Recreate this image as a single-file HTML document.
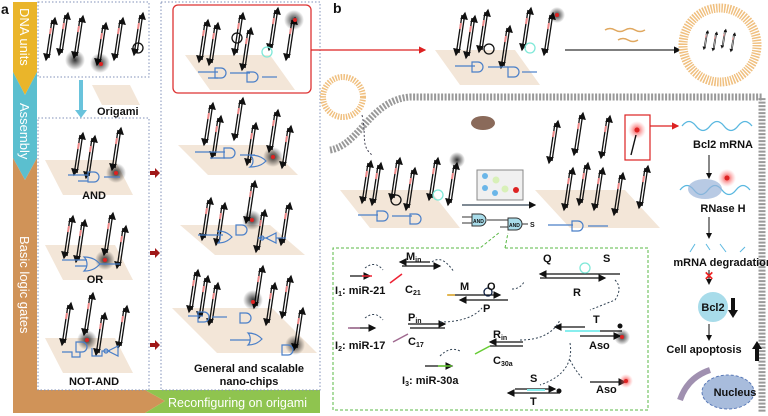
<!DOCTYPE html>
<html><head><meta charset="utf-8"><style>
html,body{margin:0;padding:0;background:#fff}
svg{display:block}
text{font-family:"Liberation Sans",sans-serif;font-weight:bold;fill:#111}
</style></head><body>
<svg width="768" height="416" viewBox="0 0 768 416" xmlns="http://www.w3.org/2000/svg">
<defs>
<marker id="ah" markerWidth="6" markerHeight="6" refX="5" refY="3" orient="auto"><path d="M0,0L6,3L0,6z" fill="#111"/></marker>
<marker id="ahr" markerWidth="6" markerHeight="6" refX="5" refY="3" orient="auto"><path d="M0,0L6,3L0,6z" fill="#d22"/></marker>
<radialGradient id="glow"><stop offset="0" stop-color="#000" stop-opacity=".8"/><stop offset="1" stop-color="#000" stop-opacity="0"/></radialGradient>
<radialGradient id="rglow"><stop offset="0" stop-color="#e22" stop-opacity=".9"/><stop offset="1" stop-color="#f88" stop-opacity="0"/></radialGradient>
<g id="st"><line x1="0" y1="0" x2="-6" y2="40" stroke="#111" stroke-width="1.3" marker-end="url(#ah)"/><line x1="-3" y1="38" x2="3" y2="-2" stroke="#111" stroke-width="1.3" marker-end="url(#ah)"/><line x1="-1" y1="8" x2="-2" y2="14" stroke="#e88" stroke-width="2"/></g>
<g id="gate"><path d="M0,0h6a5,5 0 0 1 0,10h-6z" fill="none" stroke="#4a7fc8" stroke-width="1.2"/></g>
</defs>

<text x="1" y="14" font-size="14">a</text>
<path d="M13,2H37V72L25,95L13,72Z" fill="#eab52a"/>
<path d="M13,72L25,95L37,72V158L25,180L13,158Z" fill="#5bbfcf"/>
<path d="M13,158L25,180L37,158V390H145L165,401L145,413H13Z" fill="#d09358"/>
<path d="M145,390H320V413H145L165,401Z" fill="#8fc44f"/>
<text x="168" y="407" font-size="12.5" style="fill:#fff;font-weight:normal">Reconfiguring on origami</text>
<text transform="translate(20,8) rotate(90)" font-size="13" style="fill:#fff;font-weight:normal">DNA units</text>
<text transform="translate(20,103) rotate(90)" font-size="13" style="fill:#fff;font-weight:normal">Assembly</text>
<text transform="translate(20,236) rotate(90)" font-size="13" style="fill:#fff;font-weight:normal">Basic logic gates</text>

<g fill="none" stroke="#8090b8" stroke-dasharray="1.5,2">
<rect x="38" y="2" width="111" height="75"/>
<rect x="38" y="118" width="111" height="272"/>
<rect x="161" y="2" width="159" height="388"/>
</g>
<rect x="173" y="5" width="138" height="88" rx="5" fill="none" stroke="#d33" stroke-width="1.3"/>
<line x1="311" y1="50" x2="425" y2="50" stroke="#d22" stroke-width="1.2" marker-end="url(#ahr)"/>

<path d="M79,80h4v30h4l-6,8l-6,-8h4z" fill="#69c3dc"/>
<path d="M92,85h38l10,20h-38z" fill="#f3e6d8"/>
<text x="97" y="115" font-size="11">Origami</text>

<g fill="#f3e6d8">
<path d="M45,160h70l18,35h-70z"/>
<path d="M45,245h70l18,35h-70z"/>
<path d="M45,338h70l18,35h-70z"/>
<path d="M185,55h85l25,35h-85z"/>
<path d="M178,145h90l30,30h-90z"/>
<path d="M180,225h90l35,30h-90z"/>
<path d="M172,308h100l45,45h-100z"/>
<path d="M435,50h80l25,35h-80z"/>
<path d="M340,190h90l30,38h-90z"/>
<path d="M535,190h90l35,38h-90z"/>
</g>

<g>
<use href="#st" x="52" y="20"/><use href="#st" x="65" y="15"/><use href="#st" x="80" y="18"/><use href="#st" x="103" y="25"/><use href="#st" x="120" y="20"/><use href="#st" x="140" y="15"/>
<use href="#st" x="80" y="135"/><use href="#st" x="92" y="138"/><use href="#st" x="118" y="130"/>
<use href="#st" x="70" y="218"/><use href="#st" x="82" y="222"/><use href="#st" x="110" y="215"/><use href="#st" x="123" y="228"/>
<use href="#st" x="68" y="305"/><use href="#st" x="90" y="295"/><use href="#st" x="102" y="315"/><use href="#st" x="124" y="308"/>
<use href="#st" x="205" y="22"/><use href="#st" x="215" y="25"/><use href="#st" x="240" y="15"/><use href="#st" x="248" y="30"/><use href="#st" x="275" y="10"/><use href="#st" x="292" y="20"/>
<use href="#st" x="210" y="105"/><use href="#st" x="218" y="118"/><use href="#st" x="240" y="100"/><use href="#st" x="253" y="125"/><use href="#st" x="275" y="112"/><use href="#st" x="288" y="128"/>
<use href="#st" x="208" y="200"/><use href="#st" x="222" y="205"/><use href="#st" x="252" y="183"/><use href="#st" x="262" y="212"/><use href="#st" x="287" y="205"/>
<use href="#st" x="195" y="272"/><use href="#st" x="205" y="278"/><use href="#st" x="215" y="285"/><use href="#st" x="260" y="268"/><use href="#st" x="272" y="285"/><use href="#st" x="288" y="278"/><use href="#st" x="300" y="310"/>
</g>
<g fill="url(#glow)"><circle cx="75" cy="60" r="10"/><circle cx="100" cy="63" r="10"/><circle cx="116" cy="173" r="10"/><circle cx="105" cy="260" r="10"/><circle cx="87" cy="340" r="10"/><circle cx="294" cy="20" r="10"/><circle cx="273" cy="157" r="10"/><circle cx="252" cy="220" r="10"/><circle cx="253" cy="300" r="10"/><circle cx="295" cy="345" r="10"/></g>
<g fill="#d22"><circle cx="101" cy="64" r="2"/><circle cx="116" cy="173" r="2"/><circle cx="105" cy="260" r="2"/><circle cx="87" cy="340" r="2"/><circle cx="295" cy="20" r="2"/><circle cx="273" cy="157" r="2"/><circle cx="252" cy="220" r="2"/><circle cx="253" cy="302" r="2"/></g>
<g fill="none" stroke="#4a7fc8" stroke-width="1.2">
<path d="M68,175h20m-10,6h10"/><use href="#gate" x="88" y="172"/><path d="M104,177h16"/>
<path d="M62,260h25m-12,6h12"/><path d="M84,257c10,0 14,5 16,7c-2,2 -6,7 -16,7c4,-4 4,-10 0,-14z"/><path d="M100,264h20"/>
<path d="M62,352h10v5h8v-5"/><use href="#gate" x="76" y="342"/><path d="M92,348v8h10v-5h8"/><path d="M108,351l10,-5v10z"/><circle cx="106" cy="351" r="2"/>
<path d="M198,72h20m-10,6h10"/><use href="#gate" x="215" y="68"/><path d="M230,73h20"/><use href="#gate" x="247" y="72"/><path d="M262,77h15"/>
<path d="M195,152h30m-15,6h15"/><use href="#gate" x="224" y="148"/><path d="M240,155h15"/><path d="M250,155c10,0 14,4 16,6c-2,2 -6,6 -16,6c4,-3 4,-9 0,-12z"/>
<path d="M198,235h25"/><path d="M218,231c8,0 12,4 14,6c-2,2 -6,6 -14,6c3,-3 3,-9 0,-12z"/><use href="#gate" x="236" y="225"/><path d="M258,238h10"/><circle cx="262" cy="238" r="2"/><path d="M266,238l10,-5v10z"/><path d="M276,238h10"/>
<path d="M188,316h15"/><use href="#gate" x="198" y="312"/><path d="M212,317h15"/><use href="#gate" x="240" y="313"/><path d="M230,340h20"/><path d="M248,333c8,0 12,4 14,6c-2,2 -6,6 -14,6c3,-3 3,-9 0,-12z"/><use href="#gate" x="282" y="345"/>
</g>
<circle cx="138" cy="48" r="5" fill="none" stroke="#111" stroke-width="1.3"/>
<circle cx="267" cy="52" r="5" fill="none" stroke="#7fe8d8" stroke-width="1.3"/>
<circle cx="237" cy="38" r="5" fill="none" stroke="#111" stroke-width="1.3"/>
<text x="94" y="199" font-size="11" text-anchor="middle">AND</text>
<text x="95" y="283" font-size="11" text-anchor="middle">OR</text>
<text x="94" y="385" font-size="11" text-anchor="middle">NOT-AND</text>
<text x="249" y="372" font-size="11" text-anchor="middle">General and scalable</text>
<text x="249" y="385" font-size="11" text-anchor="middle">nano-chips</text>
<g fill="#a01818"><path d="M150,171h5v-3l5,5l-5,5v-3h-5z"/><path d="M150,251h5v-3l5,5l-5,5v-3h-5z"/><path d="M150,343h5v-3l5,5l-5,5v-3h-5z"/></g>

<text x="333" y="13" font-size="14">b</text>
<path d="M330,150C360,145 370,100 410,97H762V412" fill="none" stroke="#999" stroke-width="7" stroke-dasharray="2,1.5"/>
<g><use href="#st" x="462" y="15"/><use href="#st" x="472" y="18"/><use href="#st" x="485" y="12"/><use href="#st" x="507" y="28"/><use href="#st" x="528" y="10"/><use href="#st" x="550" y="15"/></g>
<circle cx="557" cy="15" r="8" fill="url(#glow)"/><circle cx="557" cy="15" r="2" fill="#d22"/>
<circle cx="489" cy="49" r="5" fill="none" stroke="#111" stroke-width="1.3"/>
<circle cx="530" cy="48" r="5" fill="none" stroke="#7fe8d8" stroke-width="1.3"/>
<g fill="none" stroke="#4a7fc8" stroke-width="1.2"><path d="M455,66h20"/><use href="#gate" x="472" y="62"/><path d="M488,67h20"/><use href="#gate" x="508" y="67"/><path d="M522,72h15"/></g>
<line x1="565" y1="50" x2="680" y2="50" stroke="#333" stroke-width="1.2" marker-end="url(#ah)"/>
<g stroke="#e0a860" fill="none" stroke-width="1.5"><path d="M605,30q5,-3 10,0t10,0"/><path d="M625,30q5,-3 10,0t10,0"/><path d="M618,40q5,-3 10,0t10,0"/></g>
<circle cx="720" cy="45" r="37" fill="none" stroke="#f0c080" stroke-width="9" stroke-dasharray="1.5,1.2"/>
<circle cx="720" cy="45" r="31" fill="#fff"/>
<g transform="translate(720,45) scale(.45) translate(-500,-45)"><use href="#st" x="470" y="15"/><use href="#st" x="490" y="18"/><use href="#st" x="510" y="12"/><use href="#st" x="530" y="20"/></g>
<circle cx="343" cy="97" r="20" fill="none" stroke="#f0c080" stroke-width="6" stroke-dasharray="1.5,1.2"/>
<path d="M362,115c5,20 -2,30 10,40" stroke="#445" fill="none" stroke-dasharray="2,2"/>
<ellipse cx="483" cy="123" rx="12" ry="7" fill="#8a6a5a"/>

<g><use href="#st" x="368" y="163"/><use href="#st" x="378" y="165"/><use href="#st" x="397" y="160"/><use href="#st" x="412" y="170"/><use href="#st" x="435" y="160"/><use href="#st" x="454" y="165"/></g>
<circle cx="457" cy="160" r="8" fill="url(#glow)"/>
<circle cx="396" cy="200" r="5" fill="none" stroke="#111" stroke-width="1.3"/><circle cx="438" cy="195" r="5" fill="none" stroke="#7fe8d8" stroke-width="1.3"/>
<g fill="none" stroke="#4a7fc8" stroke-width="1.2"><path d="M358,215h20"/><use href="#gate" x="377" y="211"/><path d="M392,216h20"/><use href="#gate" x="410" y="214"/></g>
<rect x="477" y="170" width="46" height="30" fill="#f0f0f0" stroke="#888"/>
<g fill="#6bb6e8"><circle cx="485" cy="176" r="3"/><circle cx="485" cy="188" r="3"/><circle cx="495" cy="193" r="3"/></g>
<g fill="#d8f0b8"><circle cx="496" cy="180" r="3.5"/><circle cx="505" cy="189" r="3.5"/></g><circle cx="516" cy="190" r="3" fill="#d22"/>
<line x1="462" y1="205" x2="535" y2="205" stroke="#345" stroke-width="1.2" marker-end="url(#ah)"/>
<g stroke="#333" fill="#a8dcea"><path d="M472,214h8a6,6 0 0 1 0,12h-8z"/><path d="M508,218h8a6,6 0 0 1 0,12h-8z"/><path d="M462,217h10M462,223h10M487,220h21M500,227h8M522,224h6" fill="none"/></g>
<text x="473" y="223" font-size="5" font-weight="normal">AND</text><text x="509" y="227" font-size="5" font-weight="normal">AND</text>
<text x="530" y="227" font-size="7" font-weight="normal">S</text>
<g><use href="#st" x="555" y="123"/><use href="#st" x="580" y="115"/><use href="#st" x="607" y="118"/><use href="#st" x="570" y="170"/><use href="#st" x="585" y="165"/><use href="#st" x="600" y="170"/><use href="#st" x="620" y="175"/><use href="#st" x="645" y="168"/></g>
<g fill="none" stroke="#4a7fc8" stroke-width="1.2"><path d="M548,225h25"/><use href="#gate" x="572" y="221"/><path d="M588,226h20"/></g>
<rect x="625" y="115" width="25" height="45" fill="none" stroke="#d22" stroke-width="1.2"/>
<circle cx="637" cy="130" r="9" fill="url(#rglow)"/><circle cx="637" cy="130" r="2.5" fill="#d22"/>
<line x1="631" y1="155" x2="636" y2="135" stroke="#111" stroke-width="1.4"/>
<line x1="650" y1="126" x2="678" y2="126" stroke="#d22" stroke-width="1.2" marker-end="url(#ahr)"/>
<path d="M682,126q7,-9 14,0t14,0t14,0t14,0t14,0" fill="none" stroke="#5ab8e0" stroke-width="1.3"/>
<text x="723" y="148" font-size="11" text-anchor="middle">Bcl2 mRNA</text>
<line x1="709" y1="155" x2="709" y2="178" stroke="#111" marker-end="url(#ah)"/>
<path d="M680,190q7,-9 14,0t14,0t14,0t14,0t14,0" fill="none" stroke="#5ab8e0" stroke-width="1.3"/>
<ellipse cx="705" cy="189" rx="17" ry="10" fill="#9ab4d8" opacity=".7"/>
<circle cx="727" cy="178" r="9" fill="url(#rglow)"/><circle cx="727" cy="178" r="2.5" fill="#d22"/>
<text x="723" y="212" font-size="11" text-anchor="middle">RNase H</text>
<line x1="709" y1="217" x2="709" y2="238" stroke="#111" marker-end="url(#ah)"/>
<path d="M690,252l5,-8M710,250l-4,-6M720,244l6,8M740,252l5,-5" stroke="#5ab8e0" fill="none"/>
<text x="723" y="266" font-size="11" text-anchor="middle">mRNA degradation</text>
<line x1="709" y1="270" x2="709" y2="284" stroke="#111" marker-end="url(#ah)"/>
<text x="709" y="280" font-size="12" text-anchor="middle" style="fill:#e22">✕</text>
<circle cx="713" cy="307" r="15" fill="#a8dcea"/>
<text x="713" y="311" font-size="11" text-anchor="middle">Bcl2</text>
<path d="M731,298h4v12h3l-5,8l-5,-8h3z" fill="#111"/>
<line x1="709" y1="324" x2="709" y2="340" stroke="#111" marker-end="url(#ah)"/>
<text x="704" y="353" font-size="11" text-anchor="middle">Cell apoptosis</text>
<path d="M755,361h4v-12h3l-5,-8l-5,8h3z" fill="#111"/>
<path d="M680,400c5,-15 15,-25 30,-30" stroke="#a090b0" stroke-width="6" fill="none"/>
<ellipse cx="728" cy="392" rx="26" ry="17" fill="#a8bcdc" stroke="#5a7ab8" stroke-dasharray="3,2"/>
<text x="735" y="396" font-size="11" text-anchor="middle">Nucleus</text>

<path d="M505,248H648V410H333V248H480L500,232M505,248L508,233" fill="none" stroke="#5ab845" stroke-dasharray="3,2"/>
<g stroke="#111" stroke-width="1.3" fill="none">
<line x1="350" y1="276" x2="370" y2="276" marker-end="url(#ah)"/>
<line x1="430" y1="262" x2="400" y2="262" marker-end="url(#ah)"/>
<line x1="402" y1="266" x2="440" y2="266" marker-end="url(#ah)"/>
<line x1="448" y1="295" x2="500" y2="295" marker-end="url(#ah)"/>
<line x1="508" y1="300" x2="460" y2="300" marker-end="url(#ah)"/>
<line x1="620" y1="274" x2="540" y2="274" marker-end="url(#ah)"/>
<line x1="540" y1="278" x2="605" y2="278" marker-end="url(#ah)"/>
<line x1="350" y1="328" x2="375" y2="328" marker-end="url(#ah)"/>
<line x1="408" y1="324" x2="445" y2="324" marker-end="url(#ah)"/>
<line x1="410" y1="328" x2="445" y2="328"/>
<line x1="523" y1="342" x2="490" y2="342" marker-end="url(#ah)"/>
<line x1="490" y1="346" x2="523" y2="346"/>
<line x1="585" y1="327" x2="555" y2="327" marker-end="url(#ah)"/>
<line x1="580" y1="331" x2="622" y2="331"/>
<line x1="580" y1="336" x2="620" y2="336" marker-end="url(#ah)"/>
<line x1="425" y1="366" x2="452" y2="366" marker-end="url(#ah)"/>
<line x1="515" y1="389" x2="555" y2="389" marker-end="url(#ah)"/>
<line x1="560" y1="393" x2="508" y2="393" marker-end="url(#ah)"/>
<line x1="590" y1="382" x2="625" y2="382" marker-end="url(#ah)"/>
</g>
<line x1="362" y1="276" x2="372" y2="276" stroke="#e23" stroke-width="1.5"/>
<line x1="390" y1="283" x2="402" y2="274" stroke="#e23" stroke-width="1.5"/>
<line x1="348" y1="328" x2="360" y2="328" stroke="#a06a90" stroke-width="1.5"/>
<line x1="393" y1="342" x2="408" y2="334" stroke="#a06a90" stroke-width="1.5"/>
<line x1="475" y1="354" x2="490" y2="346" stroke="#6c3" stroke-width="1.5"/>
<line x1="438" y1="366" x2="452" y2="366" stroke="#6c3" stroke-width="1.5"/>
<line x1="447" y1="295" x2="455" y2="295" stroke="#e8b030" stroke-width="1.5"/>
<line x1="565" y1="331" x2="600" y2="331" stroke="#8ee" stroke-width="2"/>
<line x1="527" y1="390" x2="545" y2="390" stroke="#8ee" stroke-width="2"/>
<circle cx="488" cy="292" r="4" fill="none" stroke="#124" stroke-width="1.3"/>
<circle cx="585" cy="268" r="5" fill="none" stroke="#7fe8d8" stroke-width="1.3"/>
<circle cx="620" cy="326" r="2.5" fill="#111"/><circle cx="559" cy="391" r="2.5" fill="#111"/>
<circle cx="622" cy="337" r="8" fill="url(#glow)"/><circle cx="622" cy="337" r="2" fill="#d22"/>
<circle cx="626" cy="381" r="7" fill="url(#rglow)"/><circle cx="626" cy="381" r="2" fill="#d22"/>
<g fill="none" stroke="#345" stroke-dasharray="2,2"><path d="M365,268q10,-8 18,2"/><path d="M432,262q10,-8 22,10"/><path d="M512,289q8,0 12,-7"/><path d="M615,280q8,8 0,20l-25,10"/><path d="M440,322q30,0 42,-14"/><path d="M520,340q30,0 40,-20"/><path d="M365,318q10,-8 18,2"/><path d="M440,356q10,-10 20,-5"/><path d="M570,343q5,30 -30,42"/><path d="M570,360q5,10 12,18"/></g>
<g font-size="11">
<text x="335" y="294">I<tspan font-size="7" dy="2">1</tspan><tspan dy="-2">: miR-21</tspan></text>
<text x="406" y="260">M<tspan font-size="7" dy="2">in</tspan></text>
<text x="405" y="293">C<tspan font-size="7" dy="2">21</tspan></text>
<text x="460" y="290">M</text><text x="487" y="290">O</text><text x="483" y="312">P</text>
<text x="543" y="262">Q</text><text x="603" y="262">S</text><text x="573" y="296">R</text>
<text x="335" y="349">I<tspan font-size="7" dy="2">2</tspan><tspan dy="-2">: miR-17</tspan></text>
<text x="408" y="321">P<tspan font-size="7" dy="2">in</tspan></text>
<text x="408" y="345">C<tspan font-size="7" dy="2">17</tspan></text>
<text x="493" y="338">R<tspan font-size="7" dy="2">in</tspan></text>
<text x="493" y="364">C<tspan font-size="7" dy="2">30a</tspan></text>
<text x="593" y="323">T</text><text x="589" y="349">Aso</text>
<text x="402" y="384">I<tspan font-size="7" dy="2">3</tspan><tspan dy="-2">: miR-30a</tspan></text>
<text x="530" y="382">S</text><text x="530" y="405">T</text><text x="596" y="393">Aso</text>
</g>
</svg>
</body></html>
